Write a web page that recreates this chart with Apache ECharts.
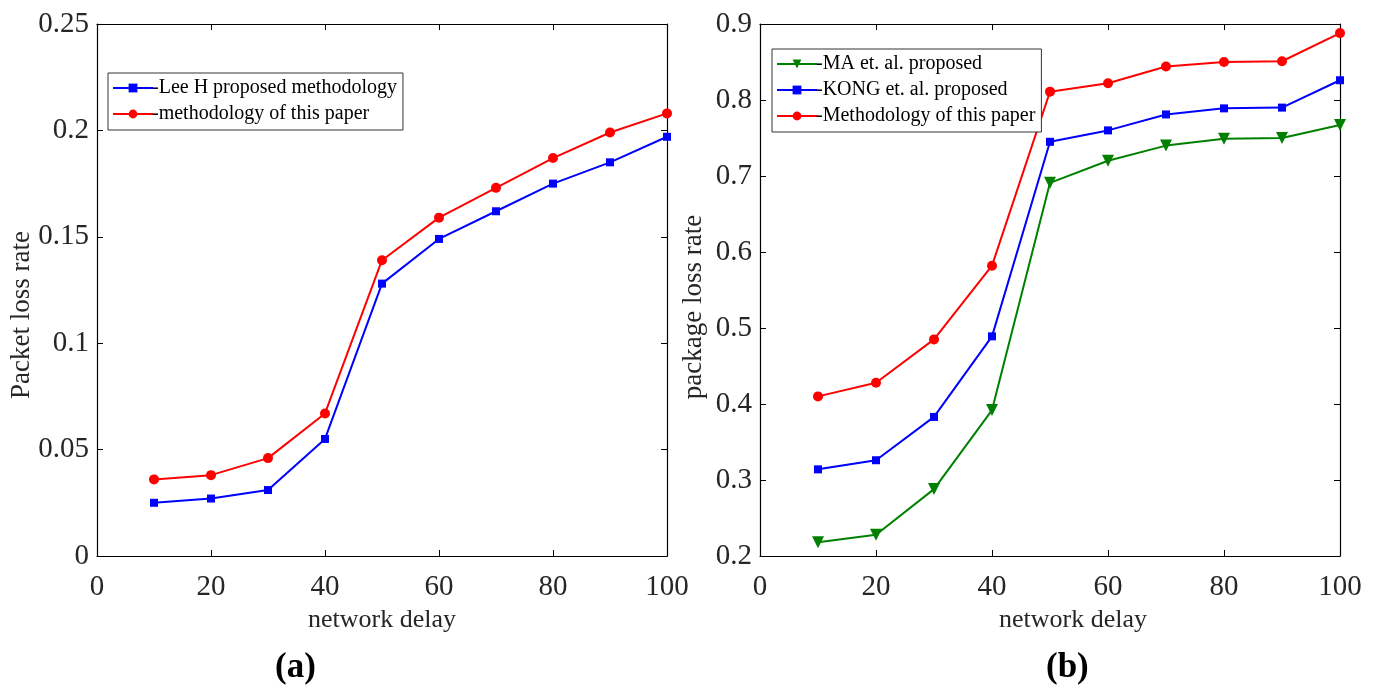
<!DOCTYPE html>
<html><head><meta charset="utf-8">
<script src="https://cdn.jsdelivr.net/npm/echarts@6/dist/echarts.min.js"></script>
<style>html,body{margin:0;padding:0;background:#fff}#c{width:1376px;height:688px}</style>
</head><body><div id="c"></div>
<script>
const xVals = [10,20,30,40,50,60,70,80,90,100];
const xTicks = [0,20,40,60,80,100];
// panel (a)
const leeH = [0.025,0.027,0.031,0.055,0.128,0.149,0.162,0.175,0.185,0.197];
const paperA = [0.036,0.038,0.046,0.067,0.139,0.159,0.173,0.187,0.199,0.208];
// panel (b)
const maProp = [0.218,0.228,0.288,0.392,0.691,0.720,0.740,0.749,0.750,0.767];
const kongProp = [0.314,0.326,0.383,0.489,0.745,0.760,0.781,0.789,0.790,0.826];
const paperB = [0.410,0.428,0.485,0.582,0.811,0.822,0.844,0.850,0.851,0.888];
const namesA = ['-Lee H proposed methodology','-methodology of this paper'];
const namesB = ['-MA et. al. proposed','-KONG et. al. proposed','-Methodology of this paper'];
const yNameA = 'Packet loss rate';
const yNameB = 'package loss rate';
const xName = 'network delay';

const font = 'Liberation Serif';
const txt = '#262626';
const pairs = a => xVals.map((x,i)=>[x,a[i]]);
const downTri = 'path://M0,0 L10,0 L5,9 Z';

function xAx(grid, show, pos, name, pad){
  return {type:'value', gridIndex:grid, position:pos, min:0, max:100, interval:20,
    name: name||'', nameLocation:'middle', nameGap:48,
    nameTextStyle:{fontFamily:font,fontSize:26,color:txt,padding:pad||0},
    axisLine:{show:true,onZero:false,lineStyle:{color:'#000',width:1.2}},
    axisTick:{show:true,inside:true,length:6,lineStyle:{color:'#000'}},
    axisLabel:{show:show,fontFamily:font,fontSize:29,color:txt,margin:17},
    splitLine:{show:false}};
}
function yAx(grid, show, pos, min, max, interval, fmt){
  return {type:'value', gridIndex:grid, position:pos, min:min, max:max, interval:interval,
    axisLine:{show:true,onZero:false,lineStyle:{color:'#000',width:1.2}},
    axisTick:{show:true,inside:true,length:6,lineStyle:{color:'#000'}},
    axisLabel:{show:show,fontFamily:font,fontSize:29,color:txt,margin:8,formatter:fmt},
    splitLine:{show:false}};
}
function ser(name,data,xi,yi,color,symbol,size){
  return {type:'line',name:name,data:pairs(data),xAxisIndex:xi,yAxisIndex:yi,
    symbol:symbol,symbolSize:size,itemStyle:{color:color},
    lineStyle:{color:color,width:2},animation:false};
}
const legendCommon = {orient:'vertical', itemWidth:40, itemHeight:11, itemGap:6,
  borderColor:'#333', borderWidth:1, backgroundColor:'#fff',
  textStyle:{fontFamily:font,fontSize:20,color:'#000',padding:[0,0,0,-6]}};

const chart = echarts.init(document.getElementById('c'));
chart.setOption({
  backgroundColor:'#fff',
  animation:false,
  grid:[{left:97,right:709,top:24,bottom:132},{left:760,right:36,top:24,bottom:132}],
  xAxis:[xAx(0,true,'bottom',xName), xAx(0,false,'top'),
         xAx(1,true,'bottom',xName,[0,0,0,46]), xAx(1,false,'top')],
  yAxis:[yAx(0,true,'left',0,0.25,0.05, v=>v===0?'0':String(+v.toFixed(2))),
         yAx(0,false,'right',0,0.25,0.05),
         yAx(1,true,'left',0.2,0.9,0.1, v=>String(+v.toFixed(1))),
         yAx(1,false,'right',0.2,0.9,0.1)],
  legend:[
    Object.assign({}, legendCommon, {left:108, top:73, padding:[5,6,6,4], data:namesA}),
    Object.assign({}, legendCommon, {left:772, top:49, padding:[5,6,6,4], data:namesB})
  ],
  title:[
    {text:'(a)', left:270, top:645, textStyle:{fontFamily:font,fontSize:35,fontWeight:'bold',color:'#000'}},
    {text:'(b)', left:1041, top:645, textStyle:{fontFamily:font,fontSize:35,fontWeight:'bold',color:'#000'}}
  ],
  graphic:[
    {type:'text', x:22, y:315, rotation:Math.PI/2, silent:true,
     style:{text:yNameA, font:'27px "Liberation Serif"', fill:txt, textAlign:'center', textVerticalAlign:'middle'}},
    {type:'text', x:694, y:307, rotation:Math.PI/2, silent:true,
     style:{text:yNameB, font:'27px "Liberation Serif"', fill:txt, textAlign:'center', textVerticalAlign:'middle'}}
  ],
  series:[
    ser(namesA[0],leeH,0,0,'#0000ff','rect',8),
    ser(namesA[1],paperA,0,0,'#ff0000','circle',10),
    ser(namesB[0],maProp,2,2,'#008000',downTri,12),
    ser(namesB[1],kongProp,2,2,'#0000ff','rect',8),
    ser(namesB[2],paperB,2,2,'#ff0000','circle',10)
  ]
});
</script></body></html>
